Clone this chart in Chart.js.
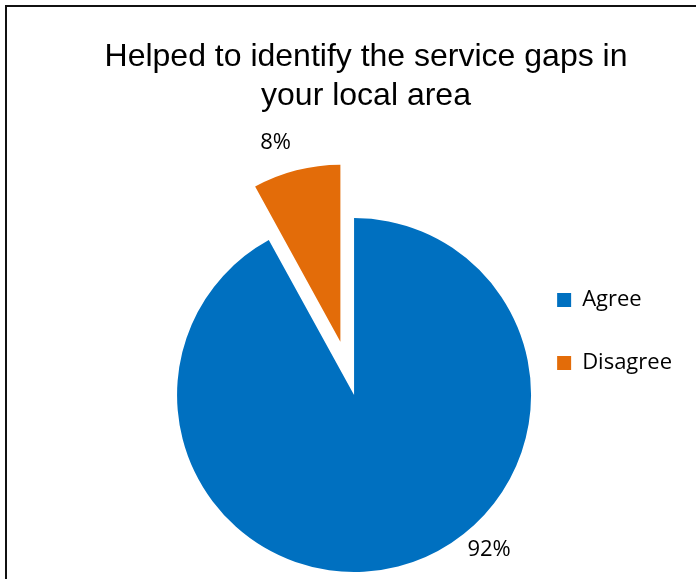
<!DOCTYPE html>
<html>
<head>
<meta charset="utf-8">
<script src="https://cdn.jsdelivr.net/npm/chart.js@4/dist/chart.umd.min.js"></script>
<style>
  html, body { margin: 0; padding: 0; background: #fff; overflow: hidden; }
  #wrap { position: relative; width: 696px; height: 579px; }
  #frame {
    position: absolute; left: 5px; top: 5px; width: 800px; height: 700px;
    border: 2px solid #111;
  }
  #graficos { position: absolute; left: 0; top: 0; }
  #titulo {
    position: absolute; left: 0; top: 36px; width: 732px;
    text-align: center; font: 32px "Liberation Sans", Arial, sans-serif;
    line-height: 39px; color: #000;
  }
</style>
</head>
<body>
<div id="wrap">
  <div id="frame"></div>
  <canvas id="graficos"></canvas>
  <div id="titulo"></div>
</div>
<script>
// survey answers
const titleLines = ['Helped to identify the service gaps in', 'your local area'];
const answers = ['Agree', 'Disagree'];
const percentages = [92, 8];

document.getElementById('titulo').innerHTML = titleLines.join('<br>');

// pulls a slice out along its middle angle (plain translation, like an office pie)
const explodePlugin = {
  id: 'explode',
  afterDatasetUpdate(chart, args, opts) {
    args.meta.data.forEach((arc, i) => {
      const d = opts.distance[i] || 0;
      if (!d) return;
      const mid = (arc.startAngle + arc.endAngle) / 2;
      arc.x += Math.cos(mid) * d;
      arc.y += Math.sin(mid) * d;
    });
  }
};

// percentage text outside each slice
const outsideLabels = {
  id: 'outsideLabels',
  afterDatasetsDraw(chart, args, opts) {
    const ctx = chart.ctx;
    const meta = chart.getDatasetMeta(0);
    ctx.save();
    ctx.font = opts.font;
    ctx.fillStyle = opts.color;
    ctx.textAlign = 'center';
    ctx.textBaseline = 'middle';
    meta.data.forEach((arc, i) => {
      const p = opts.placement[i];
      const ang = p.angle * Math.PI / 180;
      const r = arc.outerRadius + p.gap;
      ctx.fillText(percentages[i] + '%', arc.x + Math.cos(ang) * r, arc.y + Math.sin(ang) * r);
    });
    ctx.restore();
  }
};

const canvas = document.getElementById('graficos');
canvas.width = 696;
canvas.height = 579;
const ctx = canvas.getContext('2d');

let myChart = new Chart(ctx, {
  type: 'pie',
  data: {
    labels: answers,
    datasets: [{
      data: percentages,
      backgroundColor: ['#0070C0', '#E36C09'],
      borderWidth: 0,
      clip: false
    }]
  },
  options: {
    responsive: false,
    animation: false,
    events: [],
    radius: 177,
    layout: {
      padding: { top: 248, bottom: 37, left: 192, right: 14 }
    },
    plugins: {
      title: { display: false },
      tooltip: { enabled: false },
      legend: {
        position: 'right',
        align: 'start',
        labels: {
          boxWidth: 14,
          boxHeight: 14,
          padding: 41,
          color: '#000',
          font: { family: '"Open Sans"', size: 22 }
        }
      },
      explode: { distance: [0, 55] },
      outsideLabels: {
        font: '22px "Open Sans"',
        color: '#000',
        placement: [{ angle: 48.8, gap: 28 }, { angle: -108, gap: 32.5 }]
      }
    }
  },
  plugins: [explodePlugin, outsideLabels]
});
</script>
</body>
</html>
